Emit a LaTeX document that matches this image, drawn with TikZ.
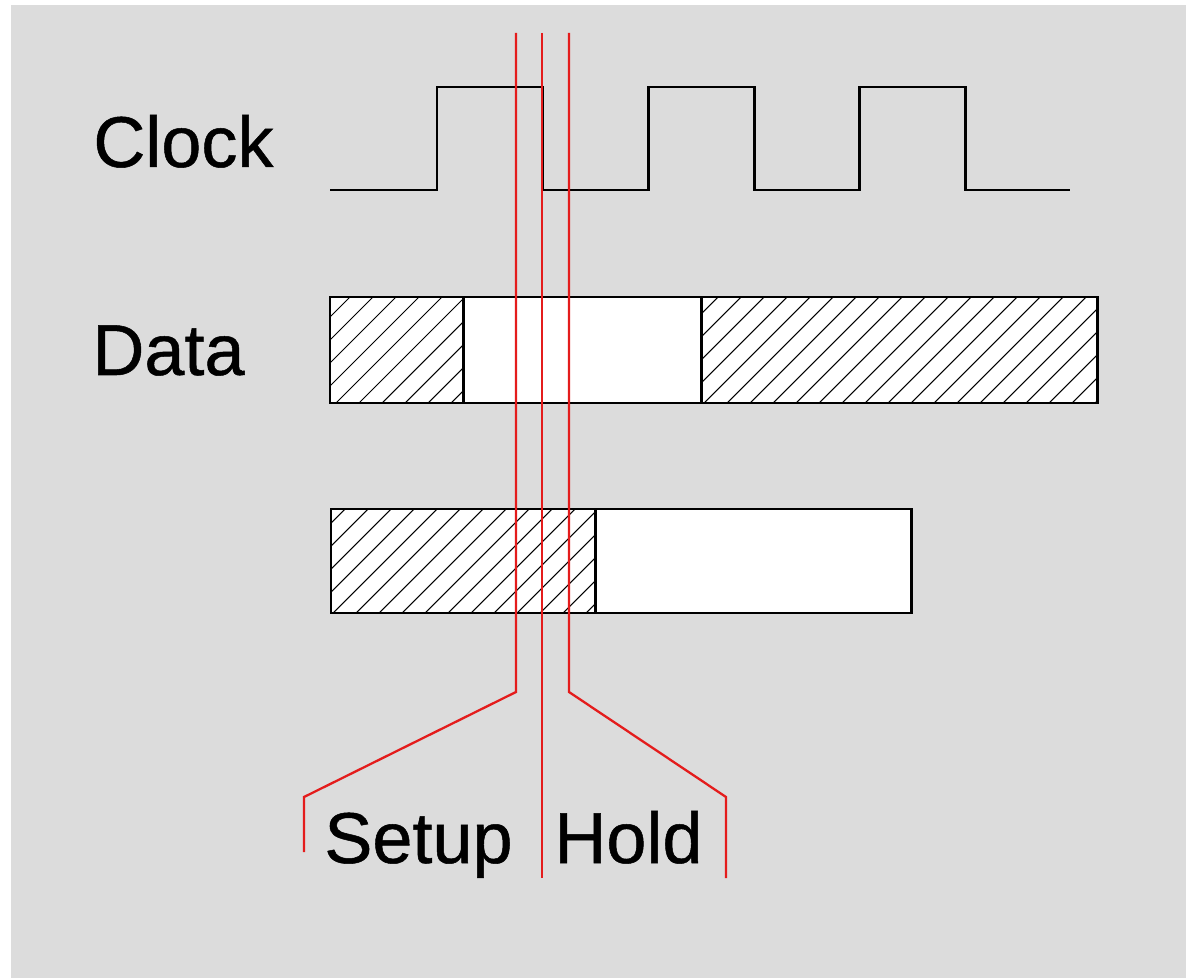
\documentclass[tikz,border=0pt]{standalone}
\usepackage{fontspec}
\setmainfont{Liberation Sans}
\newfontfamily\lblfont{Liberation Sans}[BoldFont={Liberation Sans}, BoldFeatures={FakeBold=0.7}]
\usepackage{tikz}

\definecolor{panelgray}{RGB}{220,220,220}
\definecolor{markred}{RGB}{228,28,28}

\begin{document}
\begin{tikzpicture}[x=0.02cm, y=0.02cm,
    wave/.style={line width=1.7pt, line join=miter},
    hatchline/.style={line width=0.6pt},
    marker/.style={draw=markred, line width=1.3pt},
    lbl/.style={anchor=base west, inner sep=0pt, font=\lblfont\bfseries\fontsize{41}{49}\selectfont}]

\useasboundingbox (0,0) rectangle (1186,978);
\fill[panelgray] (11,0) rectangle (1186,973);

% Macro to hatch the inside of a rectangle
% Usage: \hatchbox{x1}{y1}{x2}{y2}
\newcommand{\hatchbox}[4]{
    \begin{scope}
        \clip (#1,#2) rectangle (#3,#4);
        \foreach \d in {-354,-331,...,750} {
            \draw[hatchline] (\d,0) -- ++(1000,1000);
        }
    \end{scope}
}

% --- Labels ---
\node[lbl] (clk) at (93,811) {Clock};
\node[lbl] (data) at (92,603) {Data};
\node[lbl] (setup) at (324,115) {Setup};
\node[lbl] (hold) at (554,115) {Hold};

% --- Clock ---
\def\lo{788}
\def\hi{891}
\draw[wave] (330,\lo) -- (437,\lo) -- (437,\hi) -- (542,\hi) -- (542,\lo)
    -- (648,\lo) -- (648,\hi) -- (754,\hi) -- (754,\lo)
    -- (859,\lo) -- (859,\hi) -- (965,\hi) -- (965,\lo) -- (1070,\lo);

% --- Data ---
\fill[white] (330,575) rectangle (1097,681);
\hatchbox{330}{575}{463}{681}
\hatchbox{701}{575}{1097}{681}
\draw[wave] (330,575) rectangle (1097,681);
\draw[wave] (463,575) -- (463,681);
\draw[wave] (701,575) -- (701,681);

% --- Delayed data ---
\fill[white] (331,365) rectangle (911,469);
\hatchbox{331}{365}{595}{469}
\draw[wave] (331,365) rectangle (911,469);
\draw[wave] (595,365) -- (595,469);

% --- Setup / hold markers ---
\coordinate (sTop) at (516,945);
\coordinate (sBend) at (516,286);
\coordinate (sFoot) at (304,181);
\coordinate (sEnd) at (304,126);
\coordinate (eTop) at (542,945);
\coordinate (eEnd) at (542,100);
\coordinate (hTop) at (569,945);
\coordinate (hBend) at (569,286);
\coordinate (hFoot) at (726,181);
\coordinate (hEnd) at (726,100);

\draw[marker] (sTop) -- (sBend) -- (sFoot) -- (sEnd);
\draw[marker] (eTop) -- (eEnd);
\draw[marker] (hTop) -- (hBend) -- (hFoot) -- (hEnd);

\end{tikzpicture}
\end{document}
